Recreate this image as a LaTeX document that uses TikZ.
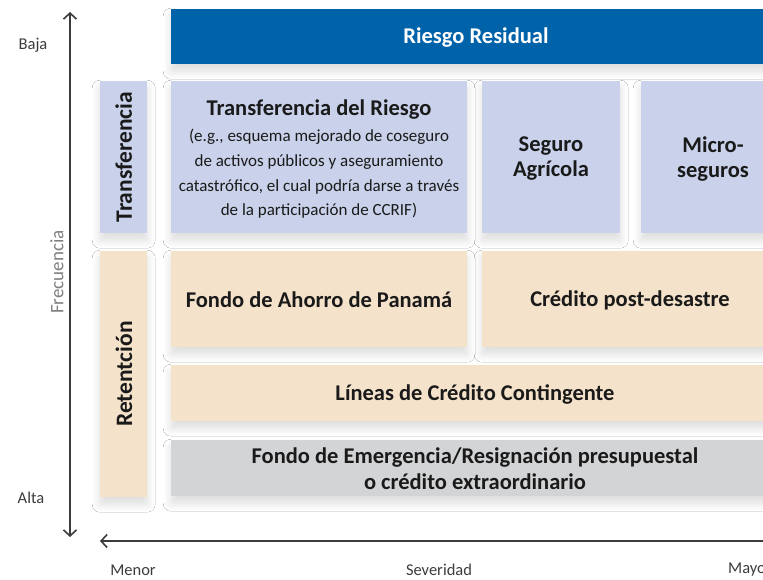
\documentclass[tikz,border=0pt]{standalone}
\usepackage{fontspec}
\setmainfont{Carlito}
\usetikzlibrary{arrows.meta,shadows.blur}
\definecolor{dblue}{HTML}{0062A9}
\definecolor{lblue}{HTML}{C9D2EA}
\definecolor{beige}{HTML}{F5E2CA}
\definecolor{lgray}{HTML}{D3D4D6}
\definecolor{axis}{HTML}{3C3C3C}
\definecolor{txt}{HTML}{1A1A1A}
\tikzset{
  box/.style={rectangle, inner sep=0pt, anchor=north west, align=center,
    text=txt, font=\bfseries\fontsize{22.5}{25}\selectfont,
    blur shadow={shadow xshift=0pt, shadow yshift=-7pt, shadow blur radius=8pt, shadow blur steps=12, shadow opacity=14}},
  btxt/.style={text=txt, align=center, font=\bfseries\fontsize{22.5}{25}\selectfont},
  vtxt/.style={rotate=90, text=txt, font=\bfseries\fontsize{23.5}{25}\selectfont},
  axisline/.style={draw=axis, line width=1.8pt, {Straight Barb[length=6pt,width=13pt,line width=1.6pt]}-{Straight Barb[length=6pt,width=13pt,line width=1.6pt]}},
  axlab/.style={text=axis, font=\fontsize{16.5}{18}\selectfont, inner sep=0pt},
}
\begin{document}
\begin{tikzpicture}[x=1pt,y=-1pt]
\useasboundingbox (0,0) rectangle (763,580);
\clip (0,0) rectangle (763,580);
\fill[white] (0,0) rectangle (763,580);
% boxes
\node[box, fill=dblue, text=white, minimum width=620, minimum height=55] (rr) at (171,9) {};
\node[btxt, text=white] (rrt) at (476,38) {Riesgo Residual};
\node[box, fill=lblue, minimum width=47, minimum height=152] (tv) at (100,81) {};
\node[vtxt] (tvt) at (tv.center) {Transferencia};
\node[box, fill=lblue, minimum width=296, minimum height=152] (tr) at (171,81) {};
\node[btxt] (trh) at (319,110) {Transferencia del Riesgo};
\node[align=center, text=txt, font=\fontsize{17}{24.7}\selectfont] (trt) at (319,174)
  {(e.g., esquema mejorado de coseguro\\
   de activos públicos y aseguramiento\\
   catastrófico, el cual podría darse a través\\
   de la participación de CCRIF)};
\node[box, fill=lblue, minimum width=138, minimum height=152] (sa) at (482,81) {};
\node[btxt] (sat) at (551,159) {Seguro\\Agrícola};
\node[box, fill=lblue, minimum width=160, minimum height=152] (ms) at (641,81) {};
\node[btxt] (mst) at (713,159) {Micro-\\seguros};
\node[box, fill=beige, minimum width=47, minimum height=246] (rv) at (100,251) {};
\node[vtxt] (rvt) at (124,374) {Retentción};
\node[box, fill=beige, minimum width=296, minimum height=96] (fa) at (171,251) {};
\node[btxt] (fat) at (319,300) {Fondo de Ahorro de Panamá};
\node[box, fill=beige, minimum width=320, minimum height=96] (cp) at (482,251) {};
\node[btxt] (cpt) at (630,300) {Crédito post-desastre};
\node[box, fill=beige, minimum width=620, minimum height=56] (lc) at (171,365) {};
\node[btxt] (lct) at (475,394) {Líneas de Crédito Contingente};
\node[box, fill=lgray, minimum width=620, minimum height=56] (fe) at (171,440) {};
\node[btxt, font=\bfseries\fontsize{22.5}{26}\selectfont] (fet) at (475,469) {Fondo de Emergencia/Resignación presupuestal\\o crédito extraordinario};
% axes
\coordinate (vt) at (70,12);
\coordinate (vb) at (70,537);
\draw[axisline] (vb) -- (vt);
\coordinate (hl) at (100,541);
\coordinate (hr) at (790,541);
\draw[axisline] (hr) -- (hl);
\node[axlab] (baja) at (33,45) {Baja};
\node[axlab] (alta) at (31,498) {Alta};
\node[axlab, rotate=90, text=gray, font=\fontsize{19}{20}\selectfont] (frec) at (57,272) {Frecuencia};
\node[axlab] (menor) at (133,570) {Menor};
\node[axlab] (sev) at (439,570) {Severidad};
\node[axlab, anchor=west] (mayor) at (728,570) {Mayor};
\end{tikzpicture}
\end{document}
